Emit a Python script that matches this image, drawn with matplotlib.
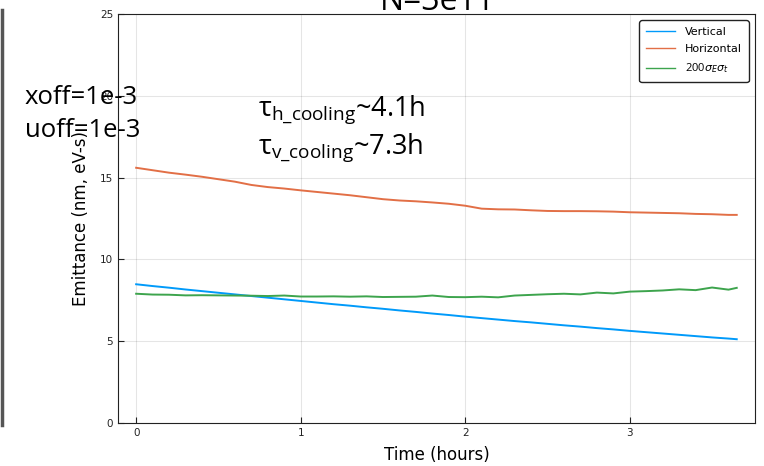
import matplotlib.pyplot as plt
from matplotlib.lines import Line2D

plt.rcParams["mathtext.fontset"] = "custom"
plt.rcParams["mathtext.rm"] = "Open Sans"
plt.rcParams["mathtext.it"] = "DejaVu Sans:italic"

# data (time in hours)
t = [0.0, 0.1, 0.2, 0.3, 0.4, 0.5, 0.6, 0.7, 0.8, 0.9, 1.0, 1.1, 1.2,
     1.3, 1.4, 1.5, 1.6, 1.7, 1.8, 1.9, 2.0, 2.1, 2.2, 2.3, 2.4, 2.5,
     2.6, 2.7, 2.8, 2.9, 3.0, 3.1, 3.2, 3.3, 3.4, 3.5, 3.6, 3.65]
vertical = [8.48, 8.37, 8.27, 8.16, 8.06, 7.96, 7.86, 7.76, 7.66, 7.56,
            7.46, 7.36, 7.26, 7.17, 7.07, 6.98, 6.88, 6.79, 6.69, 6.60,
            6.50, 6.41, 6.32, 6.23, 6.15, 6.06, 5.97, 5.89, 5.80, 5.72,
            5.63, 5.55, 5.47, 5.39, 5.31, 5.23, 5.16, 5.12]
horizontal = [15.60, 15.45, 15.30, 15.18, 15.05, 14.90, 14.75, 14.55,
              14.42, 14.33, 14.22, 14.12, 14.02, 13.92, 13.80, 13.68,
              13.60, 13.55, 13.48, 13.40, 13.28, 13.10, 13.06, 13.05,
              13.00, 12.96, 12.95, 12.95, 12.94, 12.92, 12.88, 12.86,
              12.84, 12.82, 12.78, 12.76, 12.72, 12.72]
sigma = [7.90, 7.85, 7.84, 7.80, 7.81, 7.80, 7.79, 7.78, 7.76, 7.79,
         7.73, 7.73, 7.74, 7.72, 7.74, 7.70, 7.71, 7.72, 7.79, 7.70,
         7.69, 7.72, 7.68, 7.79, 7.83, 7.87, 7.90, 7.86, 7.97, 7.92,
         8.03, 8.06, 8.10, 8.17, 8.12, 8.28, 8.15, 8.26]

fig = plt.figure(figsize=(7.64, 4.66), dpi=100)
ax = fig.add_axes([0.1545, 0.0923, 0.8335, 0.8777])

ax.plot(t, vertical, color="#009AFA", lw=1.4, label="Vertical")
ax.plot(t, horizontal, color="#E26F46", lw=1.4, label="Horizontal")
ax.plot(t, sigma, color="#3DA44D", lw=1.4, label=r"$200\sigma_E\sigma_t$")

ax.set_xlim(-0.11, 3.76)
ax.set_ylim(0, 25)
ax.set_xticks([0, 1, 2, 3])
ax.set_yticks([0, 5, 10, 15, 20, 25])
ax.tick_params(direction="in", length=4, labelsize=7.5, colors="#222222")
ax.grid(True, color="black", alpha=0.1, lw=0.8)
for s in ax.spines.values():
    s.set_color("#222222")
ax.set_xlabel("Time (hours)", fontsize=12, labelpad=6)
ax.set_ylabel("Emittance (nm, eV-s)", fontsize=12, labelpad=7)

leg = ax.legend(loc="upper right", fontsize=8, frameon=True, fancybox=True,
                edgecolor="#222222", framealpha=1, handlelength=2.6,
                labelspacing=0.65, borderpad=0.6, handletextpad=0.9,
                bbox_to_anchor=(0.999, 0.998))
leg.get_frame().set_linewidth(1.0)
for h in leg.get_lines():
    h.set_linewidth(1.0)

# slide overlays
fig.text(0.572, 1 - 10 / 466, "N=3e11", fontsize=23, ha="center",
         va="baseline", family="Open Sans")
fig.text(25 / 764, 1 - 104 / 466, "xoff=1e-3", fontsize=18.5,
         family="Open Sans", va="baseline")
fig.text(25 / 764, 1 - 137 / 466, "uoff=1e-3", fontsize=18.5,
         family="Open Sans", va="baseline")
fig.text(258 / 764, 1 - 115 / 466, r"τ$_{\mathrm{h\_cooling}}$~4.1h",
         fontsize=19.5, family="Open Sans", va="baseline")
fig.text(258 / 764, 1 - 153 / 466, r"τ$_{\mathrm{v\_cooling}}$~7.3h",
         fontsize=19.5, family="Open Sans", va="baseline")
fig.add_artist(Line2D([2 / 764, 2 / 764], [1 - 10 / 466, 1 - 425 / 466],
                      color="#555555", lw=2.5, transform=fig.transFigure))

fig.savefig("out.png", dpi=100)
